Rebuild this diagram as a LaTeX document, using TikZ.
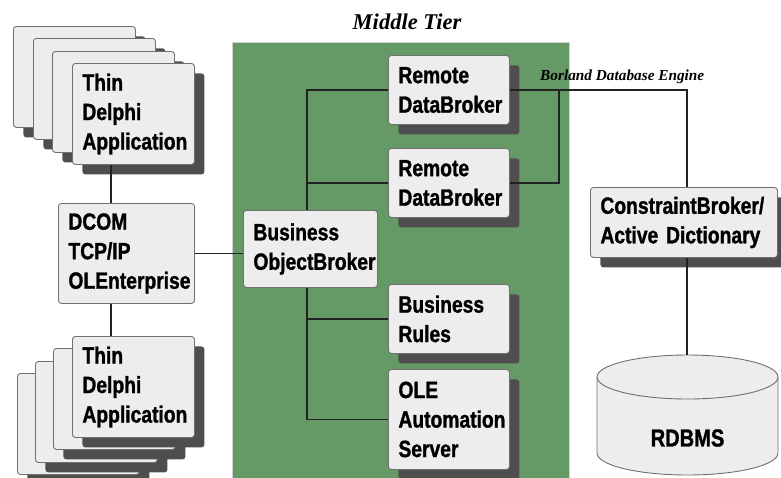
\documentclass[tikz,border=0pt]{standalone}
\usepackage{fontspec}
\setmainfont{Liberation Sans}
\newfontfamily\condfont[FakeStretch=0.82,FakeBold=1.2]{Liberation Sans}
\newfontfamily\serifbi{Liberation Serif}
\usetikzlibrary{shadows}
\definecolor{boxfill}{HTML}{EDEDED}
\definecolor{bordergray}{HTML}{707070}
\definecolor{shadowgray}{HTML}{4E4E4E}
\definecolor{tiergreen}{HTML}{659A66}
\definecolor{linecol}{HTML}{222222}
\tikzset{
  plainbox/.style={draw=bordergray, fill=boxfill, rounded corners=3pt, line width=0.9pt,
    anchor=north west, inner xsep=10pt, inner ysep=0pt, align=left,
    font=\condfont\bfseries\fontsize{23.5}{29.5}\selectfont},
  card/.style={plainbox, drop shadow={shadow xshift=10pt, shadow yshift=-10pt, fill=shadowgray, opacity=1}},
  stackcard/.style={card, minimum width=122pt, minimum height=101pt},
  conn/.style={draw=linecol, line width=1.1pt},
}
\begin{document}
\begin{tikzpicture}[x=1pt,y=-1pt]
\useasboundingbox (0,0) rectangle (781,477);
% middle tier panel
\fill[tiergreen] (232,42) rectangle (569,480);
\draw[gray!35, line width=0.6pt] (232,480) -- (232,42) -- (569,42) -- (569,480);
\node[font=\serifbi\bfseries\itshape\fontsize{22.5}{26}\selectfont] (title) at (407,22) {Middle Tier};
\node[font=\serifbi\bfseries\itshape\fontsize{15.3}{17}\selectfont, anchor=base west, inner sep=0pt] (bde) at (540,80) {Borland Database Engine};

% top stack
\node[stackcard] (tA1) at (13,26) {};
\node[stackcard] (tA2) at (33,38) {};
\node[stackcard] (tA3) at (52,51) {};
\node[card, text width=102pt, minimum height=101pt] (tA) at (72,63) {Thin\\Delphi\\Application};

% bottom stack
\node[stackcard] (tB1) at (17,373) {};
\node[stackcard] (tB2) at (35,361) {};
\node[stackcard] (tB3) at (53,348) {};
\node[card, text width=102pt, minimum height=101pt] (tB) at (72,336) {Thin\\Delphi\\Application};

% DCOM
\node[plainbox, text width=116pt, minimum height=100pt] (dcom) at (58,203) {DCOM\\TCP/IP\\OLEnterprise};

% middle tier boxes
\node[plainbox, text width=114pt, minimum height=77pt] (bob) at (243,210) {Business\\ObjectBroker};
\node[card, text width=101pt, minimum height=69pt] (rdb1) at (388,55) {Remote\\DataBroker};
\node[card, text width=101pt, minimum height=69pt] (rdb2) at (388,148) {Remote\\DataBroker};
\node[card, text width=101pt, minimum height=69pt] (rules) at (388,284) {Business\\Rules};
\node[card, text width=101pt, minimum height=100pt] (ole) at (388,369) {OLE\\Automation\\Server};

% constraint broker
\node[card, text width=167pt, minimum height=70pt] (cb) at (590,187) {ConstraintBroker/\\Active Dictionary};

% RDBMS cylinder
\fill[boxfill] (597,377) -- (597,453) arc[start angle=180,end angle=360,x radius=90.5pt,y radius=22pt] -- (778,377) -- cycle;
\draw[bordergray, line width=0.9pt] (597,377) -- (597,453) arc[start angle=180,end angle=360,x radius=90.5pt,y radius=22pt] -- (778,377);
\filldraw[fill=boxfill, draw=bordergray, line width=0.9pt] (687.5,377) ellipse [x radius=90.5pt, y radius=22pt];
\node[font=\condfont\bfseries\fontsize{24.5}{29}\selectfont] (db) at (687.5,438) {RDBMS};
\coordinate (dbtop) at (687,355);

% guide coordinates
\coordinate (lx) at (111,0);
\coordinate (bx) at (307,0);
\coordinate (jx) at (559,0);
\coordinate (cx) at (687,0);

% connectors
\draw[conn] (tA.south -| lx) -- (dcom.north -| lx);
\draw[conn] (dcom.south -| lx) -- (tB.north -| lx);
\draw[conn] (dcom.east) -- (dcom.east -| bob.west);
\draw[conn] (bob.north -| bx) |- (rdb1.west);
\draw[conn] (bx |- rdb2.west) -- (rdb2.west);
\draw[conn] (bob.south -| bx) |- (ole.west);
\draw[conn] (bx |- rules.west) -- (rules.west);
\draw[conn] (rdb1.east) -- (rdb1.east -| cx) -- (cb.north -| cx);
\draw[conn] (rdb2.east) -- (rdb2.east -| jx) -- (rdb1.east -| jx);
\draw[conn] (cb.south -| cx) -- (dbtop);
\end{tikzpicture}
\end{document}
